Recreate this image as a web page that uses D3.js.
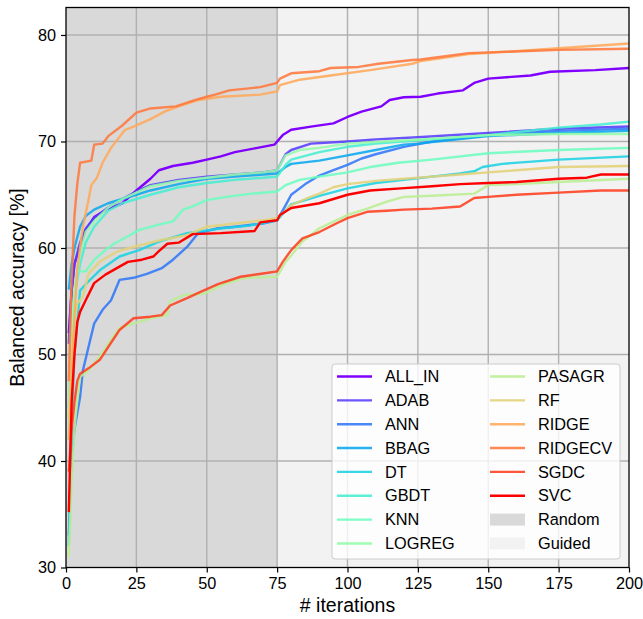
<!DOCTYPE html>
<html><head><meta charset="utf-8">
<script src="https://cdn.jsdelivr.net/npm/d3@7"></script>
<style>body{margin:0;background:#fff}svg{display:block}text{font-family:"Liberation Sans",Arial,sans-serif;fill:#000}</style>
</head><body><svg id="c" width="643" height="619"></svg>
<script>
const seriesNames = ["ALL_IN","ADAB","ANN","BBAG","DT","GBDT","KNN","LOGREG","PASAGR","RF","RIDGE","RIDGECV","SGDC","SVC"];
const xTicks = [0,25,50,75,100,125,150,175,200];
const yTicks = [30,40,50,60,70,80];
const phases = [{name:"Random",from:0,to:75},{name:"Guided",from:75,to:200}];

const ALL_IN = [[1,52],[2,56],[3,58.5],[5,60.1],[7,61.7],[10,62.9],[15,63.7],[20,64.2],[25,65.4],[30,66.5],[33,67.3],[38,67.7],[45,68.0],[50,68.3],[55,68.6],[60,69.0],[68,69.4],[74,69.7],[77,70.6],[80,71.1],[87,71.4],[95,71.7],[100,72.3],[105,72.8],[112,73.3],[115,73.9],[120,74.15],[126,74.2],[132,74.5],[141,74.8],[145,75.5],[150,75.9],[165,76.2],[172,76.55],[188,76.7],[200,76.9]];
const ADAB = [[1,51],[2,56],[3,58.5],[5,60.5],[7,61.8],[10,62.8],[15,63.8],[20,64.6],[25,65.3],[30,65.9],[40,66.4],[50,66.7],[60,66.9],[70,67.1],[75,67.3],[78,68.8],[80,69.2],[87,69.8],[100,70.0],[110,70.2],[125,70.4],[150,70.8],[175,71.2],[200,71.4]];
const ANN = [[1,33],[2,40],[3,43],[4,44.5],[5,46],[6,48.5],[8,50.7],[10,52.9],[13,54.2],[16,55.1],[19,57.0],[24,57.2],[29,57.6],[34,58.1],[38,58.9],[43,60.1],[47,61.4],[54,61.85],[60,62.0],[70,62.3],[75,62.6],[78,64.0],[80,65.0],[85,66.0],[90,66.8],[95,67.3],[100,67.8],[105,68.4],[110,68.8],[120,69.5],[130,70.0],[140,70.3],[150,70.6],[175,71.0],[200,71.2]];
const BBAG = [[1,56.1],[2,58.5],[3,60],[5,62],[7,63],[10,63.6],[15,64.2],[20,64.6],[25,65.0],[30,65.4],[40,66.0],[50,66.5],[60,66.7],[70,66.9],[75,67.0],[78,67.6],[80,67.9],[90,68.2],[100,68.7],[110,69.2],[120,69.7],[125,69.8],[150,70.5],[175,70.8],[200,71.0]];
const DT = [[1,32],[2,44],[3,50],[4,53],[5,56.0],[7,56.6],[12,57.9],[19,59.2],[26,59.8],[33,60.6],[43,61.4],[54,61.8],[65,62.1],[75,62.6],[78,63.5],[80,64.1],[90,64.9],[100,65.6],[110,66.1],[120,66.4],[130,66.7],[140,67.0],[145,67.2],[148,67.6],[155,67.9],[175,68.3],[200,68.6]];
const GBDT = [[1,45],[2,52],[3,55.5],[5,58.5],[7,60.5],[10,62.0],[15,63.5],[20,64.2],[25,64.6],[30,65.0],[40,65.7],[50,66.1],[60,66.4],[70,66.6],[75,66.7],[78,67.8],[80,68.3],[90,69.0],[100,69.5],[110,69.8],[125,70.1],[150,70.6],[175,71.3],[190,71.6],[200,71.86]];
const KNN = [[1,42],[2,50],[3,55],[4,57.8],[7,57.8],[10,58.9],[14,59.8],[17,60.4],[22,61.1],[26,61.7],[33,62.2],[38,62.5],[41.6,63.6],[45,63.9],[50,64.5],[57,64.8],[66,65.1],[75,65.3],[78,65.9],[83,66.4],[90,66.7],[100,67.1],[108,67.6],[118,68.0],[130,68.3],[150,68.9],[175,69.2],[200,69.4]];
const LOGREG = [[1,44],[2,52],[3,56],[5,59.5],[7,61.5],[10,62.5],[15,63.8],[20,64.6],[25,65.2],[30,65.8],[40,66.3],[50,66.6],[60,66.9],[70,67.1],[75,67.3],[78,68.7],[83,69.2],[90,69.4],[100,69.8],[126,70.2],[150,70.6],[175,70.7],[200,70.7]];
const PASAGR = [[1,31],[2,38],[3,43],[4,45.7],[5,47.9],[8,48.5],[12,49.8],[15,51.0],[19,52.5],[24,52.9],[30,53.4],[36,53.7],[37,55.0],[42,55.6],[49,55.7],[57,56.7],[64,57.2],[75,57.3],[78,58.7],[80,59.3],[84,60.6],[90,61.85],[96,62.6],[100,63.1],[107,63.7],[114,64.35],[120,64.8],[130,64.9],[145,65.1],[150,65.9],[160,66.0],[175,66.2],[200,66.5]];
const RF = [[1,44],[2,50],[3,53.2],[4,54.8],[6,55.4],[8,57.6],[12,58.7],[18,59.65],[24,60.1],[33,60.7],[43,61.2],[50,62.0],[60,62.3],[70,62.6],[75,62.8],[78,63.5],[80,64.0],[85,64.6],[90,65.1],[95,65.7],[100,66.0],[110,66.3],[120,66.5],[130,66.7],[140,66.9],[150,67.1],[160,67.3],[175,67.6],[200,67.7]];
const RIDGE = [[1,42],[2,48],[3,53.5],[4,58],[6,62],[8,64.5],[9,65.9],[11,66.6],[13,68.0],[16,69.4],[18,70.1],[21,71.1],[24,71.4],[30,72.1],[35,72.8],[39,73.2],[47,73.9],[55,74.2],[69,74.4],[75,74.7],[76,75.3],[83,75.8],[94,76.2],[108,76.7],[123,77.3],[126,77.55],[133,77.8],[143,78.2],[175,78.75],[200,79.2]];
const RIDGECV = [[1,47.5],[2,57],[3,63],[4,66],[5,68.0],[9,68.2],[10,69.7],[13,69.8],[15,70.5],[20,71.5],[25,72.7],[30,73.1],[39,73.3],[46,73.9],[50,74.2],[53,74.4],[58,74.8],[69,75.1],[75,75.5],[76,75.9],[80,76.4],[90,76.6],[94,76.9],[104,77.0],[111,77.3],[123,77.65],[126,77.7],[143,78.3],[175,78.6],[200,78.7]];
const SGDC = [[1,39],[2,43],[3,45.5],[4,47.5],[5,48.2],[8,48.7],[12,49.5],[15,50.7],[19,52.3],[24,53.4],[30,53.55],[34,53.7],[37,54.6],[43,55.3],[48,55.9],[54,56.6],[62,57.3],[70,57.6],[75,57.8],[77,58.7],[80,59.8],[84,60.9],[90,61.5],[96,62.3],[100,62.8],[107,63.4],[114,63.5],[120,63.6],[130,63.7],[140,63.9],[145,64.7],[150,64.8],[160,65.0],[175,65.2],[190,65.4],[200,65.4]];
const SVC = [[1,35.2],[2,45.5],[3,50],[4,53],[5,54],[7,55.1],[10,56.7],[14,57.5],[19,58.25],[22,58.7],[27,58.9],[31,59.2],[33,59.7],[36,60.4],[40,60.5],[45,61.3],[55,61.4],[67,61.6],[69,62.4],[75,62.6],[76,63.1],[80,63.75],[90,64.2],[100,65.0],[108,65.4],[119,65.6],[130,65.8],[140,66.0],[150,66.1],[160,66.2],[175,66.5],[185,66.6],[190,66.9],[200,66.9]];

const seriesData = [ALL_IN,ADAB,ANN,BBAG,DT,GBDT,KNN,LOGREG,PASAGR,RF,RIDGE,RIDGECV,SGDC,SVC];

function rainbow(t){
  const c = v => Math.max(0, Math.min(1, v));
  return d3.rgb(255*c(Math.abs(2*t-0.5)), 255*c(Math.sin(Math.PI*t)), 255*c(Math.cos(Math.PI*t/2))).formatHex();
}
const colors = seriesNames.map((n,i) => rainbow(i/(seriesNames.length-1)));
const phaseColors = {Random:"#d9d9d9", Guided:"#f2f2f2"};

const svg = d3.select("#c");
const L = 66, R = 629, T = 7.5, B = 567.5;
const x = d3.scaleLinear().domain([0,200]).range([L,R]);
const y = d3.scaleLinear().domain([30,82.58]).range([B,T]);

svg.selectAll("rect.phase").data(phases).join("rect")
  .attr("x", d => x(d.from)).attr("width", d => x(d.to)-x(d.from))
  .attr("y", T).attr("height", B-T).attr("fill", d => phaseColors[d.name]);

const g = svg.append("g");
g.selectAll("line.gx").data(xTicks.filter(t => t>0 && t<200)).join("line")
  .attr("x1", d=>x(d)).attr("x2", d=>x(d)).attr("y1", T).attr("y2", B)
  .attr("stroke","#b0b0b0").attr("stroke-width",1.4);
g.selectAll("line.gy").data(yTicks.filter(t => t>30)).join("line")
  .attr("y1", d=>y(d)).attr("y2", d=>y(d)).attr("x1", L).attr("x2", R)
  .attr("stroke","#b0b0b0").attr("stroke-width",1.4);

const line = d3.line().x(d => x(d[0])).y(d => y(d[1]));
svg.append("g").selectAll("path").data(seriesData).join("path")
  .attr("d", line).attr("fill","none")
  .attr("stroke", (d,i) => colors[i])
  .attr("stroke-opacity", (d,i) => i===0 || i===13 ? 1 : 0.88)
  .attr("stroke-width", 2.4).attr("stroke-linejoin","round");

const xAxis = svg.append("g").attr("transform", `translate(0,${B})`)
  .call(d3.axisBottom(x).tickValues(xTicks).tickSize(5).tickPadding(5));
const yAxis = svg.append("g").attr("transform", `translate(${L},0)`)
  .call(d3.axisLeft(y).tickValues(yTicks).tickSize(5).tickPadding(5));
[xAxis,yAxis].forEach(a => {
  a.select(".domain").remove();
  a.selectAll(".tick line").attr("stroke","#000").attr("stroke-width",1.2);
  a.selectAll(".tick text").attr("font-size",16.3).attr("font-family","Liberation Sans, Arial, sans-serif").attr("fill","#000");
});
svg.append("rect").attr("x",L).attr("y",T).attr("width",R-L).attr("height",B-T)
  .attr("fill","none").attr("stroke","#000").attr("stroke-width",1.3);

svg.append("text").attr("x", (L+R)/2).attr("y", 612).attr("text-anchor","middle")
  .attr("font-size",19.5).text("# iterations");
svg.append("text").attr("transform", `translate(24,${(T+B)/2}) rotate(-90)`).attr("text-anchor","middle")
  .attr("font-size",19.5).text("Balanced accuracy [%]");

const lg = svg.append("g");
lg.append("rect").attr("x",332).attr("y",364).attr("width",288).attr("height",195).attr("rx",3)
  .attr("fill","#fff").attr("fill-opacity",0.8).attr("stroke","#cccccc").attr("stroke-width",1);
const legendItems = seriesNames.map((n,i) => ({label:n, type:"line", color:colors[i], op: (i===0||i===13)?1:0.88}))
  .concat(phases.map(p => ({label:p.name, type:"patch", color:phaseColors[p.name]})));
const rowH = 23.85;
legendItems.forEach((d,k) => {
  const col = Math.floor(k/8), row = k%8;
  const x0 = col===0 ? 337 : 490;
  const yc = 376.5 + row*rowH;
  if (d.type === "line") {
    lg.append("line").attr("x1",x0).attr("x2",x0+35).attr("y1",yc).attr("y2",yc)
      .attr("stroke",d.color).attr("stroke-opacity",d.op).attr("stroke-width",2.4);
  } else {
    lg.append("rect").attr("x",x0).attr("y",yc-6).attr("width",35).attr("height",12).attr("fill",d.color);
  }
  lg.append("text").attr("x", x0+48).attr("y", yc).attr("dy","0.35em").attr("font-size",16.3).text(d.label);
});
</script></body></html>
